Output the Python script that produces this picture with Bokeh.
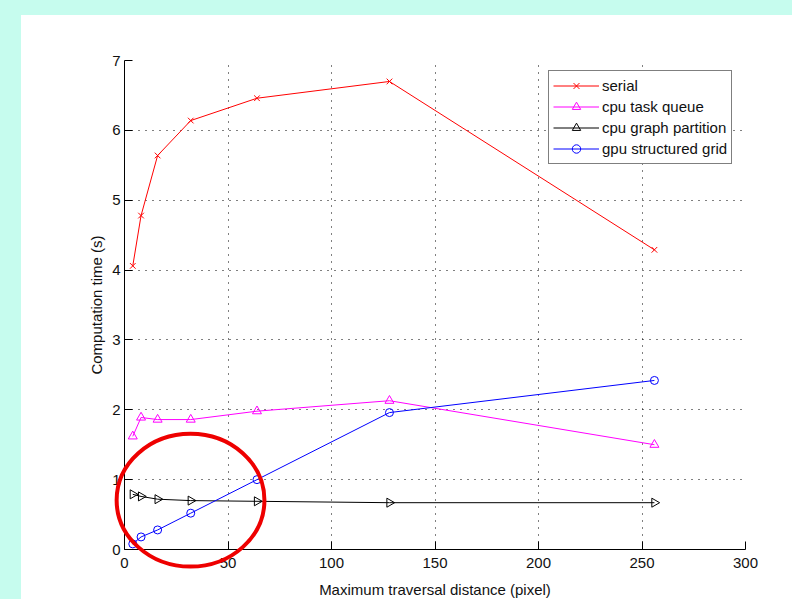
import numpy as np
from bokeh.plotting import figure
from bokeh.layouts import column
from bokeh.models import GlobalInlineStyleSheet, FixedTicker
from bokeh.embed import file_html
from bokeh.resources import INLINE

# ---- data ----
x_dist = [4, 8, 16, 32, 64, 128, 256]
serial = [4.06, 4.78, 5.64, 6.14, 6.46, 6.70, 4.29]
cpu_task_queue = [1.62, 1.89, 1.86, 1.86, 1.98, 2.13, 1.50]
cpu_graph_partition = [0.79, 0.76, 0.72, 0.70, 0.69, 0.67, 0.67]
gpu_structured_grid = [0.08, 0.18, 0.28, 0.52, 1.00, 1.96, 2.42]
x_ticks = [0, 50, 100, 150, 200, 250, 300]
y_ticks = [0, 1, 2, 3, 4, 5, 6, 7]

# highlight ellipse (data units)
ring_cx, ring_cy, ring_w, ring_h = 31.9, 0.72, 71.4, 1.90

BG = "#c6fcee"
FONT = "Liberation Sans"
FS = "15px"

# layout geometry (pixels)
W, H = 792, 599
FL, FT, FW, FH = 124, 60, 621, 489
X0, X1, Y0, Y1 = 0, 300, 0, 7

css = f"""
html, body {{ margin:0; padding:0; overflow:hidden; }}
body {{
  background-color:#ffffff;
  background-image: linear-gradient({BG},{BG}), linear-gradient({BG},{BG});
  background-size: 100% 15px, 21px 100%;
  background-position: 0 0, 0 0;
  background-repeat: no-repeat;
}}
"""

p = figure(
    x_range=(X0, X1), y_range=(Y0, Y1),
    output_backend="svg", toolbar_location=None,
    min_border_left=FL, min_border_right=W - FL - FW,
    min_border_top=FT, min_border_bottom=H - FT - FH,
    frame_width=FW, frame_height=FH,
    stylesheets=[GlobalInlineStyleSheet(css=css)],
)
p.border_fill_color = None
p.background_fill_color = "#ffffff"
p.outline_line_color = None

# axes
for ax in (p.xaxis, p.yaxis):
    ax.axis_line_color = "#000000"
    ax.axis_line_width = 1
    ax.major_tick_in = 8
    ax.major_tick_out = 0
    ax.major_tick_line_color = "#000000"
    ax.minor_tick_line_color = None
    ax.major_label_text_font = FONT
    ax.major_label_text_font_size = FS
    ax.major_label_text_color = "#111111"
    ax.axis_label_text_font = FONT
    ax.axis_label_text_font_size = FS
    ax.axis_label_text_font_style = "normal"
    ax.axis_label_text_color = "#111111"
p.xaxis.ticker = FixedTicker(ticks=x_ticks)
p.yaxis.ticker = FixedTicker(ticks=y_ticks)
p.xaxis.axis_label = "Maximum traversal distance (pixel)"
p.yaxis.axis_label = "Computation time (s)"
p.xaxis.major_label_standoff = 8
p.yaxis.major_label_standoff = 4
p.xaxis.axis_label_standoff = 10
p.yaxis.axis_label_standoff = 4

for g in (p.xgrid, p.ygrid):
    g.grid_line_color = "#000000"
    g.grid_line_dash = "1 6"
    g.grid_line_width = 1
p.xgrid.ticker = FixedTicker(ticks=x_ticks)
p.ygrid.ticker = FixedTicker(ticks=y_ticks)

# series
p.line(x_dist, serial, color="#ff0000", line_width=1, legend_label="serial")
p.scatter(x_dist, serial, marker="x", size=8, line_color="#ff0000", line_width=1,
          legend_label="serial")

p.line(x_dist, cpu_task_queue, color="#ff00ff", line_width=1, legend_label="cpu task queue")
p.scatter(x_dist, cpu_task_queue, marker="triangle", size=9, line_color="#ff00ff",
          fill_color=None, line_width=1, legend_label="cpu task queue")

p.line(x_dist, cpu_graph_partition, color="#000000", line_width=1,
       legend_label="cpu graph partition")
p.scatter(x_dist, cpu_graph_partition, marker="triangle", angle=-np.pi / 2, size=9,
          line_color="#000000", fill_color=None, line_width=1,
          legend_label="cpu graph partition")

p.line(x_dist, gpu_structured_grid, color="#0000ff", line_width=1,
       legend_label="gpu structured grid")
p.scatter(x_dist, gpu_structured_grid, marker="circle", size=8, line_color="#0000ff",
          fill_color=None, line_width=1, legend_label="gpu structured grid")

# legend
lg = p.legend[0]
lg.location = (424, 385)
lg.border_line_color = "#000000"
lg.border_line_width = 1
lg.background_fill_color = "#ffffff"
lg.background_fill_alpha = 1
lg.label_text_font = FONT
lg.label_text_font_size = FS
lg.label_text_color = "#111111"
lg.glyph_width = 46
lg.glyph_height = 21
lg.label_height = 21
lg.label_standoff = 3
lg.spacing = 0
lg.padding = 4
lg.margin = 0

# transparent overlay with the same data scale, covering the whole page,
# so the red highlight ring is not clipped at the axes
sx = FW / (X1 - X0)
sy = FH / (Y1 - Y0)
ov = figure(
    x_range=(X0 - FL / sx, X0 + (W - FL) / sx),
    y_range=(Y0 - (H - FT - FH) / sy, Y0 + (FT + FH) / sy),
    output_backend="svg", toolbar_location=None,
    x_axis_location=None, y_axis_location=None,
    min_border=0, min_border_left=0, min_border_right=0,
    min_border_top=0, min_border_bottom=0,
    frame_width=W, frame_height=H,
)
ov.grid.visible = False
ov.border_fill_color = None
ov.background_fill_color = None
ov.outline_line_color = None
ov.ellipse(x=[ring_cx], y=[ring_cy], width=ring_w, height=ring_h,
           fill_color=None, line_color="#ee0000", line_width=4)

# nest the overlay in its own container so its frame is not aligned with p's
inner = column(ov, spacing=0)
inner.margin = (-H, 0, 0, 0)
layout = column(p, inner, spacing=0)
open("out.html", "w").write(file_html(layout, INLINE))
